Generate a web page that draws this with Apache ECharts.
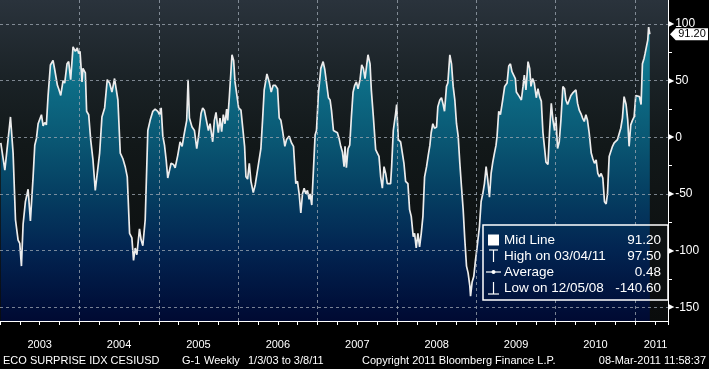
<!DOCTYPE html>
<html>
<head>
<meta charset="utf-8">
<script src="https://cdn.jsdelivr.net/npm/echarts@6.0.0/dist/echarts.min.js"></script>
<style>
html,body{margin:0;padding:0;background:#000;}
#chart{width:709px;height:369px;}
</style>
</head>
<body>
<div id="chart"></div>
<script>
// week positions as decimal years
var weekPos = [
 2003.010,2003.061,2003.132,2003.165,2003.195,2003.228,2003.249,2003.270,2003.291,2003.312,2003.320,2003.354,2003.383,2003.417,2003.438,2003.459,2003.480,2003.522,2003.543,2003.563,2003.584,2003.605,2003.635,2003.668,2003.689,2003.723,2003.739,2003.765,2003.794,2003.815,2003.844,2003.865,2003.890,2003.920,2003.949,2003.974,2003.991,
 2004.008,2004.033,2004.045,2004.075,2004.091,2004.117,2004.142,2004.171,2004.200,2004.225,2004.255,2004.284,2004.318,2004.351,2004.380,2004.410,2004.443,2004.485,2004.515,2004.548,2004.577,2004.603,2004.632,2004.661,2004.682,2004.703,2004.724,2004.757,2004.778,2004.799,2004.829,2004.862,2004.891,2004.925,2004.954,2004.988,
 2005.009,2005.030,2005.051,2005.072,2005.093,2005.113,2005.155,2005.185,2005.206,2005.239,2005.268,2005.294,2005.323,2005.352,2005.369,2005.386,2005.419,2005.449,2005.478,2005.503,2005.532,2005.553,2005.574,2005.595,2005.625,2005.646,2005.679,2005.700,2005.721,2005.750,2005.771,2005.792,2005.813,2005.834,2005.855,2005.868,2005.888,2005.909,2005.922,2005.943,2005.960,2005.985,
 2006.006,2006.035,2006.056,2006.081,2006.098,2006.119,2006.140,2006.161,2006.190,2006.215,2006.232,2006.257,2006.286,2006.307,2006.328,2006.362,2006.391,2006.416,2006.441,2006.467,2006.496,2006.517,2006.538,2006.559,2006.588,2006.609,2006.643,2006.672,2006.697,2006.726,2006.747,2006.768,2006.789,2006.810,2006.831,2006.852,2006.873,2006.894,2006.906,2006.927,2006.948,2006.969,2006.986,
 2007.011,2007.041,2007.070,2007.091,2007.112,2007.137,2007.158,2007.175,2007.200,2007.250,2007.271,2007.292,2007.313,2007.334,2007.346,2007.363,2007.384,2007.405,2007.426,2007.447,2007.468,2007.489,2007.510,2007.535,2007.556,2007.577,2007.598,2007.619,2007.635,2007.661,2007.677,2007.703,2007.732,2007.753,2007.774,2007.795,2007.816,2007.837,2007.858,2007.878,2007.899,2007.920,2007.933,2007.954,2007.983,2007.996,
 2008.017,2008.046,2008.067,2008.088,2008.109,2008.138,2008.159,2008.180,2008.205,2008.222,2008.243,2008.264,2008.285,2008.306,2008.327,2008.348,2008.373,2008.394,2008.415,2008.431,2008.452,2008.473,2008.499,2008.515,2008.540,2008.561,2008.582,2008.599,2008.624,2008.641,2008.666,2008.687,2008.708,2008.729,2008.750,2008.771,2008.792,2008.813,2008.834,2008.855,2008.876,2008.896,2008.917,2008.927,2008.947,2008.968,2008.989,
 2009.010,2009.039,2009.060,2009.081,2009.102,2009.123,2009.144,2009.165,2009.186,2009.207,2009.228,2009.248,2009.261,2009.282,2009.303,2009.332,2009.357,2009.387,2009.408,2009.429,2009.449,2009.470,2009.491,2009.504,2009.525,2009.542,2009.567,2009.588,2009.604,2009.625,2009.651,2009.672,2009.688,2009.709,2009.730,2009.755,2009.776,2009.797,2009.818,2009.839,2009.860,2009.877,2009.902,2009.923,2009.944,2009.965,2009.986,
 2010.002,2010.023,2010.044,2010.065,2010.090,2010.111,2010.128,2010.149,2010.170,2010.191,2010.212,2010.233,2010.254,2010.275,2010.296,2010.317,2010.338,2010.359,2010.380,2010.400,2010.421,2010.447,2010.467,2010.488,2010.509,2010.530,2010.551,2010.572,2010.593,2010.614,2010.635,2010.652,2010.673,2010.694,2010.715,2010.736,2010.757,2010.778,2010.798,2010.819,2010.840,2010.861,2010.886,2010.907,2010.924,2010.945,2010.966,2010.987,
 2011.008,2011.033,2011.054,2011.075,2011.092,2011.113,2011.125,2011.146,2011.159,2011.170,2011.185
];
var surprise = [
 -5,-29,18,-14,-73,-91,-94,-114,-77,-77,-57,-46,-74,-35,-7,-1,12,20,10,13,11,36,64,68,60,46,43,37,50,48,65,67,51,80,76,79,74,
 76,49,61,57,23,20,-2,-20,-47,-48,-14,18,26,51,48,40,52,33,-14,-19,-26,-35,-85,-89,-109,-98,-104,-81,-91,-96,-73,6,15,23,25,23,
 20,26,1,-7,-20,-36,-23,-24,-27,-16,-4,-8,4,15,51,17,9,6,-10,2,21,26,24,24,6,12,-4,15,22,4,17,5,20,12,25,15,35,36,73,68,49,48,
 26,24,24,-8,-35,-37,-23,-39,-49,-42,-42,-23,-10,15,42,56,49,40,46,46,43,17,15,6,-8,-2,1,-5,-8,-41,-39,-50,-67,-50,-45,-50,-47,-55,-50,-60,-29,2,6,
 39,61,67,60,60,35,33,24,6,4,-1,-8,-13,-26,-8,-27,-10,-7,18,40,46,49,43,51,64,61,52,64,73,65,42,18,-11,-14,-17,-35,-45,-26,-32,-41,-40,-41,-26,6,21,29,
 -2,-4,-5,-23,-39,-41,-64,-70,-88,-85,-98,-85,-97,-85,-70,-35,-26,-16,-7,4,12,8,9,27,33,35,29,23,45,48,73,65,45,33,12,1,-23,-44,-64,-91,-114,-120,-131,-140.6,-128,-123,-109,
 -97,-79,-57,-50,-41,-26,-38,-53,-32,-22,-14,-7,1,23,20,33,45,48,63,65,58,55,52,40,39,36,33,45,55,42,67,61,45,52,48,35,43,36,32,4,-10,-22,-24,6,30,15,6,
 18,-10,-4,15,45,43,33,29,33,37,39,40,42,30,24,21,17,14,20,15,4,-14,-19,-23,-20,-32,-35,-32,-36,-57,-59,-50,-17,-16,-8,-5,-4,-2,-1,8,17,36,29,15,-8,11,15,18,
 37,38,36,29,65,70,74,73,86,97.5,91.2
];
var yearLabels = ['2003','2004','2005','2006','2007','2008','2009','2010','2011'];
var yLabelValues = [-150,-100,-50,0,50,100];
var legendNames = ['Mid Line','High on 03/04/11','Average','Low on 12/05/08'];
var legendValues = ['91.20','97.50','0.48','-140.60'];
var footerText = ['ECO SURPRISE IDX CESIUSD','G-1','Weekly','1/3/03 to 3/8/11','Copyright 2011 Bloomberg Finance L.P.','08-Mar-2011 11:58:37'];

var xMin = 2003, xMax = 2011.414;
var yMin = -162.6, yMax = 121.5;
var plotBottom = 321;
var font = '"Liberation Sans", Arial, sans-serif';

var areaStops = [
    {offset:0, color:'#15879e'},
    {offset:0.2, color:'#117890'},
    {offset:0.27, color:'#0d6c85'},
    {offset:0.43, color:'#0a5874'},
    {offset:0.6, color:'#053f62'},
    {offset:0.78, color:'#022451'},
    {offset:0.96, color:'#000e38'},
    {offset:1, color:'#000a32'}
];
var bgStops = [
    {offset:0, color:'#2a333c'},
    {offset:0.25, color:'#1a2226'},
    {offset:0.45, color:'#121819'},
    {offset:1, color:'#0a0c0c'}
];
var dash = {color:'rgba(160,170,180,0.75)', width:1, type:[3,3]};

var seriesData = weekPos.map(function(x, i){ return [x, surprise[i]]; });
var lastVal = surprise[surprise.length - 1];

var chart = echarts.init(document.getElementById('chart'));
var option = {
    backgroundColor: '#000',
    animation: false,
    grid: [
        {left:-1.5, right:41, top:0, bottom:369 - plotBottom, show:true, borderWidth:0,
         backgroundColor: new echarts.graphic.LinearGradient(0, 0, 0, 1, bgStops)},
        {left:-1.5, right:41, top:23.9, bottom:369 - 307.4}
    ],
    xAxis: [
        {type:'value', gridIndex:0, min:xMin, max:xMax, interval:0.25, z:5,
         axisLine:{show:true, onZero:false, lineStyle:{color:'#fff', width:1}},
         axisTick:{show:true, length:4, lineStyle:{color:'#fff'}},
         axisLabel:{show:false}, splitLine:{show:false}},
        {type:'value', gridIndex:0, min:xMin, max:xMax, interval:1, z:4,
         axisLine:{show:false, onZero:false},
         axisTick:{show:true, length:29, customValues:[2004,2005,2006,2007,2008,2009,2010,2011], lineStyle:{color:'#8c8c8c', width:1}},
         axisLabel:{show:false},
         splitLine:{show:true, lineStyle:dash}},
        {type:'value', gridIndex:1, min:xMin, max:xMax, show:false}
    ],
    yAxis: [
        {type:'value', gridIndex:0, min:yMin, max:yMax, position:'right', z:5,
         axisLine:{show:true, onZero:false, lineStyle:{color:'#fff', width:1}},
         axisTick:{show:false}, axisLabel:{show:false}, splitLine:{show:false}},
        {type:'value', gridIndex:1, min:-150, max:100, interval:50, position:'right', z:4,
         axisLine:{show:false, onZero:false},
         axisTick:{show:false},
         minorTick:{show:true, splitNumber:2, length:4, lineStyle:{color:'#fff', width:1}},
         splitLine:{show:true, lineStyle:dash},
         axisLabel:{show:true, margin:0,
            formatter:function(v){ return yLabelValues.indexOf(v) >= 0 ? '{f|\u25B6}{t|' + v + '}' : ''; },
            rich:{
                f:{fontSize:8, color:'#fff', fontFamily:'"DejaVu Sans", sans-serif', padding:[0,1,0,0]},
                t:{fontSize:12, color:'#fff', fontFamily:font}
            }}}
    ],
    series: [{
        type:'line',
        xAxisIndex:0, yAxisIndex:0,
        data: seriesData,
        showSymbol:false,
        clip:true,
        lineStyle:{color:'#ececec', width:1.7},
        areaStyle:{origin:'start', opacity:1,
            color: new echarts.graphic.LinearGradient(0, 0, 0, plotBottom, areaStops, true)},
        markPoint:{
            silent:true,
            data:[{coord:[xMax, lastVal], value:lastVal}],
            symbol:'path://M0,6L6,0L40,0L40,12L6,12Z',
            symbolSize:[38,12],
            symbolOffset:[21,0],
            itemStyle:{color:'#fff'},
            label:{show:true, position:'inside', offset:[3,0], color:'#000', fontSize:11, fontFamily:font,
                formatter:function(p){ return p.value.toFixed(2); }}
        }
    }]
};
chart.setOption(option);

// overlay texts: year labels, legend box, footer
var px = function(v){ return chart.convertToPixel({xAxisIndex:0}, v); };
var g = [];
yearLabels.forEach(function(y){
    var a = Math.max(+y, xMin), b = Math.min(+y + 1, xMax);
    var cx = (px(a) + px(b)) / 2;
    if (+y + 1 > xMax) cx += 4;  // partial last year sits a little right
    g.push({type:'text', style:{text:y, x:cx, y:345, fill:'#fff', font:'11px ' + font, align:'center', verticalAlign:'middle'}});
});

var endX = px(weekPos[weekPos.length - 1]);
var box = {x:483, y:225, w:185, h:75};
g.push({type:'rect', shape:{x:box.x, y:box.y, width:endX - box.x, height:box.h},
    style:{fill:new echarts.graphic.LinearGradient(0, 0, 0, plotBottom, areaStops, true)}, z:10});
g.push({type:'rect', shape:{x:endX, y:box.y, width:box.x + box.w - endX, height:box.h},
    style:{fill:new echarts.graphic.LinearGradient(0, 0, 0, plotBottom, bgStops, true)}, z:10});
g.push({type:'rect', shape:{x:box.x, y:box.y, width:box.w, height:box.h},
    style:{fill:null, stroke:'#fff', lineWidth:1.5}, z:11});

var rowY = [240, 256, 272, 288];
var sym = {stroke:'#fff', lineWidth:1.2};
g.push({type:'rect', shape:{x:488, y:234.5, width:11, height:11}, style:{fill:'#fff'}, z:11});
g.push({type:'line', shape:{x1:493.5, y1:250, x2:493.5, y2:262}, style:sym, z:11});
g.push({type:'line', shape:{x1:489, y1:250, x2:498, y2:250}, style:sym, z:11});
g.push({type:'line', shape:{x1:486, y1:272, x2:501, y2:272}, style:sym, z:11});
g.push({type:'circle', shape:{cx:493.5, cy:272, r:2}, style:{fill:'#fff'}, z:11});
g.push({type:'line', shape:{x1:493.5, y1:282, x2:493.5, y2:294}, style:sym, z:11});
g.push({type:'line', shape:{x1:488, y1:294, x2:499, y2:294}, style:sym, z:11});
legendNames.forEach(function(n, i){
    g.push({type:'text', z:11, style:{text:n, x:504, y:rowY[i], fill:'#fff', font:'13.5px ' + font, align:'left', verticalAlign:'middle'}});
    g.push({type:'text', z:11, style:{text:legendValues[i], x:661, y:rowY[i], fill:'#fff', font:'13.5px ' + font, align:'right', verticalAlign:'middle'}});
});

var footX = [3, 182, 204, 248, 362, 706];
footerText.forEach(function(t, i){
    g.push({type:'text', style:{text:t, x:footX[i], y:361, fill:'#fff', font:'11px ' + font,
        align: i === footerText.length - 1 ? 'right' : 'left', verticalAlign:'middle'}});
});

chart.setOption({graphic:{elements:g}});
</script>
</body>
</html>
